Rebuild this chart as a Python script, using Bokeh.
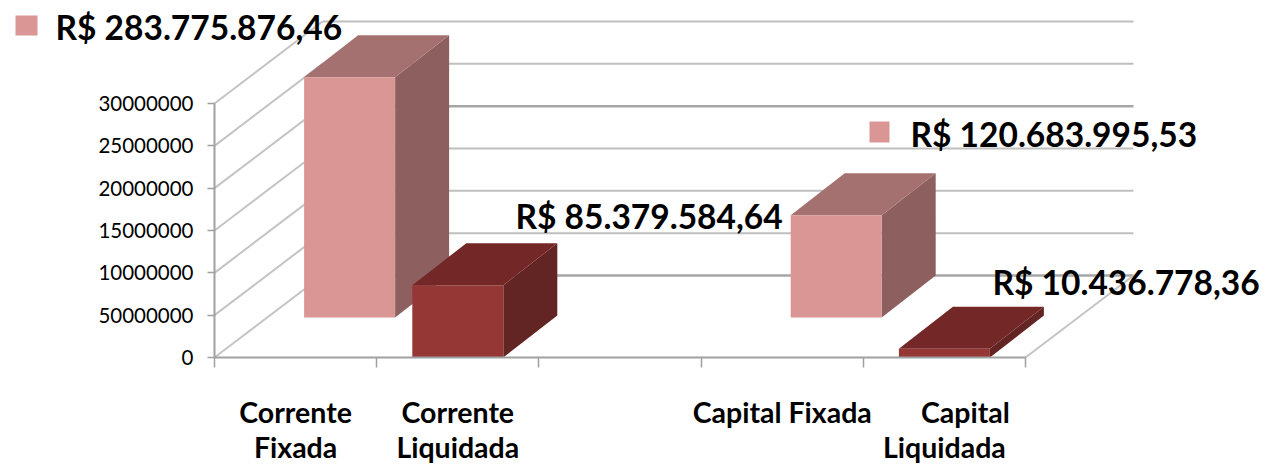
from bokeh.plotting import figure
from bokeh.models import Range1d, FixedTicker, Label, BoxAnnotation
from bokeh.embed import file_html
from bokeh.resources import INLINE

category_lines = [["Corrente", "Fixada"], ["Corrente", "Liquidada"], [], ["Capital Fixada"], ["Capital", "Liquidada"]]
slots = [0, 1, 3, 4]
values = [283775876.46, 85379584.64, 120683995.53, 10436778.36]
rows = [1, 0, 1, 0]
value_labels = ["R$ 283.775.876,46", "R$ 85.379.584,64", "R$ 120.683.995,53", "R$ 10.436.778,36"]
ticks = [0, 50000000, 100000000, 150000000, 200000000, 250000000, 300000000]
tick_labels = ["0", "50000000", "10000000", "15000000", "20000000", "25000000", "30000000"]

W, H = 1265, 465
PX_X = 162.2            # px per category
PX_V = 254 / 300e6      # px per value unit
def X(sx):   # x in page pixels to data
    return (sx - 214) / PX_X
def V(sy):   # y in page pixels to data
    return (357 - sy) / PX_V

DX = 54 / PX_X
ROW_V = 40 / PX_V
DV = 42 / PX_V
WALL_X = 108 / PX_X
WALL_V = 82 / PX_V
BAR_W = 91 / PX_X
FONT = "Lato"

p = figure(width=W, height=H, output_backend="svg", toolbar_location=None,
           x_range=Range1d(X(0), X(W)), y_range=Range1d(V(H), V(0)),
           min_border_left=0, min_border_bottom=0, min_border_top=0, min_border_right=0)
p.outline_line_color = None
p.grid.visible = False

# walls
dark = {0, 200000000}
for t in ticks:
    col = "#a6a6a6" if t in dark else "#bfbfbf"
    w = 2.5 if t in dark else 2
    p.line([0, WALL_X], [t, t + WALL_V], line_color="#c4c4c4", line_width=2)
    p.line([WALL_X, 5 + WALL_X], [t + WALL_V] * 2, line_color=col, line_width=w)
p.line([5, 5 + WALL_X], [0, WALL_V], line_color="#c4c4c4", line_width=2)

palette = {1: ("#DA9694", "#A57070", "#8E5F5F"), 0: ("#953735", "#732827", "#632523")}
for row in (1, 0):
    for s, v, r in zip(slots, values, rows):
        if r != row:
            continue
        front, top, side = palette[r]
        xc = s + 0.5 + r * DX
        x0, x1 = xc - BAR_W / 2, xc + BAR_W / 2
        b = r * ROW_V
        t = b + v
        p.patch([x1, x1, x1 + DX, x1 + DX], [b, t, t + DV, b + DV], color=side, line_width=0)
        p.patch([x0, x1, x1 + DX, x0 + DX], [t, t, t + DV, t + DV], color=top, line_width=0)
        p.patch([x0, x1, x1, x0], [b, b, t, t], color=front, line_width=0)

# axes
p.xaxis.fixed_location = 0
p.xaxis.ticker = FixedTicker(ticks=list(range(6)))
p.xaxis.bounds = (0, 5)
p.xaxis.major_label_overrides = {i: "" for i in range(6)}
p.xaxis.major_tick_out = 10
p.xaxis.major_tick_in = 0
p.xaxis.minor_tick_line_color = None
p.xaxis.axis_line_color = "#a0a0a0"
p.xaxis.major_tick_line_color = "#a0a0a0"
p.xaxis.axis_line_width = 2
p.xaxis.major_tick_line_width = 1.5

p.yaxis.fixed_location = 0
p.yaxis.ticker = FixedTicker(ticks=ticks)
p.yaxis.bounds = (0, 300000000)
p.yaxis.major_label_overrides = dict(zip(ticks, tick_labels))
p.yaxis.major_tick_out = 7
p.yaxis.major_tick_in = 0
p.yaxis.minor_tick_line_color = None
p.yaxis.major_label_standoff = 14
p.yaxis.axis_line_color = "#a0a0a0"
p.yaxis.major_tick_line_color = "#a0a0a0"
p.yaxis.axis_line_width = 2
p.yaxis.major_tick_line_width = 1.5
p.yaxis.major_label_text_font = FONT
p.yaxis.major_label_text_font_size = "20.5px"
p.yaxis.major_label_text_color = "#000000"

# category labels, line by line
for i, lines in enumerate(category_lines):
    for j, line in enumerate(lines):
        nudge = 21 / PX_X if line == "Capital" else 0
        p.add_layout(Label(x=i + 0.5 + nudge, y=V(411 + 35.5 * j), text=line, text_align="center",
                           text_baseline="middle", text_font=FONT, text_font_style="bold",
                           text_font_size="28.5px", text_color="#000000"))

# value labels
label_pos = [(55, 26), (515, 215), (910, 133), (992, 281)]
for (sx, sy), t in zip(label_pos, value_labels):
    p.add_layout(Label(x=X(sx), y=V(sy), text=t, text_align="left", text_baseline="middle",
                       text_font=FONT, text_font_style="bold", text_font_size="33.5px",
                       text_color="#000000"))

# legend keys of the labels
for sx0, sx1, sy0, sy1 in [(15, 37, 15, 35), (869, 889, 121, 142)]:
    p.add_layout(BoxAnnotation(left=X(sx0), right=X(sx1), top=V(sy0), bottom=V(sy1),
                               fill_color="#DA9694", fill_alpha=1, line_alpha=0))

open("out.html", "w").write(file_html(p, INLINE))
